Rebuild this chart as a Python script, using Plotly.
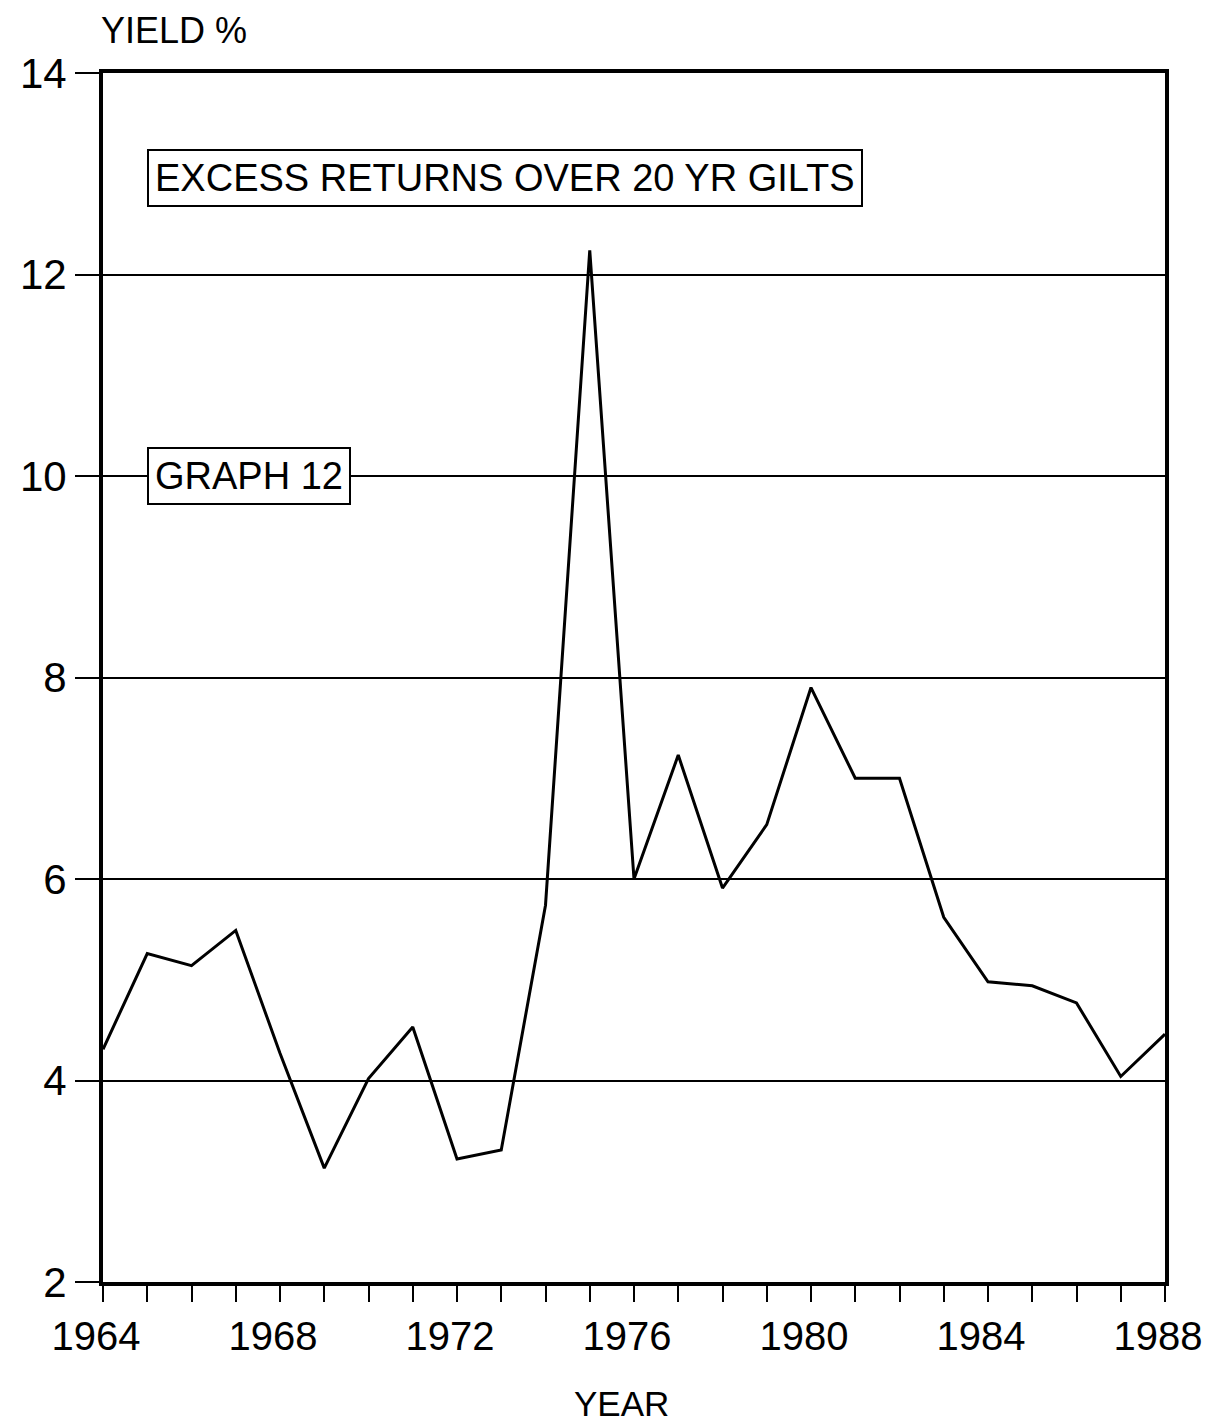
import plotly.graph_objects as go

years = list(range(1964, 1989))
excess_yield = [4.31, 5.26, 5.14, 5.49, 4.27, 3.13, 4.02, 4.53, 3.22, 3.31,
                5.74, 12.24, 6.00, 7.23, 5.91, 6.54, 7.90, 7.00, 7.00, 5.62,
                4.98, 4.94, 4.77, 4.04, 4.46]
x_tick_vals = [1964, 1968, 1972, 1976, 1980, 1984, 1988]
y_tick_vals = [2, 4, 6, 8, 10, 12, 14]

FONT = "Liberation Sans"

fig = go.Figure()
fig.add_trace(go.Scatter(x=years, y=excess_yield, mode="lines",
                         line=dict(color="black", width=3), showlegend=False,
                         hoverinfo="skip"))

fig.update_layout(
    width=1229, height=1426,
    margin=dict(l=95, r=72, t=65, b=152),
    paper_bgcolor="white", plot_bgcolor="white",
    font=dict(family=FONT, color="black"),
    xaxis=dict(range=[1964, 1988], tickvals=x_tick_vals,
               ticktext=[str(v) for v in x_tick_vals],
               ticks="outside", ticklen=16, tickwidth=2, tickcolor="black",
               ticklabelshift=-7,
               minor=dict(dtick=1, tick0=1964, ticks="outside", ticklen=16,
                          tickwidth=2, tickcolor="black", showgrid=False),
               showgrid=False, zeroline=False, automargin=False,
               showline=True, linewidth=4, linecolor="black", mirror=True,
               tickfont=dict(size=40, family=FONT)),
    yaxis=dict(range=[2, 14], tickvals=y_tick_vals,
               ticks="outside", ticklen=24, tickwidth=2, tickcolor="black",
               ticklabelstandoff=0, automargin=False,
               showgrid=True, gridcolor="black", gridwidth=2, zeroline=False,
               showline=True, linewidth=4, linecolor="black", mirror=True,
               tickfont=dict(size=42, family=FONT)),
)

fig.add_annotation(xref="paper", yref="paper", x=0.5, y=0, xanchor="center",
                   yanchor="top", yshift=-100, xshift=-13, showarrow=False,
                   text="YEAR", font=dict(size=35, family=FONT))

fig.add_annotation(xref="paper", yref="paper", x=0, y=1, xanchor="left",
                   yanchor="bottom", yshift=20, xshift=-4, showarrow=False,
                   text="YIELD %", font=dict(size=36, family=FONT))

fig.add_annotation(xref="x", yref="y", x=1965.0, y=12.96, xanchor="left",
                   yanchor="middle", showarrow=False,
                   text="EXCESS RETURNS OVER 20 YR GILTS",
                   font=dict(size=38, family=FONT),
                   bgcolor="white", bordercolor="black", borderwidth=2, borderpad=6)

fig.add_annotation(xref="x", yref="y", x=1965.0, y=10.0, xanchor="left",
                   yanchor="middle", showarrow=False,
                   text="GRAPH 12",
                   font=dict(size=38, family=FONT),
                   bgcolor="white", bordercolor="black", borderwidth=2, borderpad=6)

fig.write_html("out.html")
